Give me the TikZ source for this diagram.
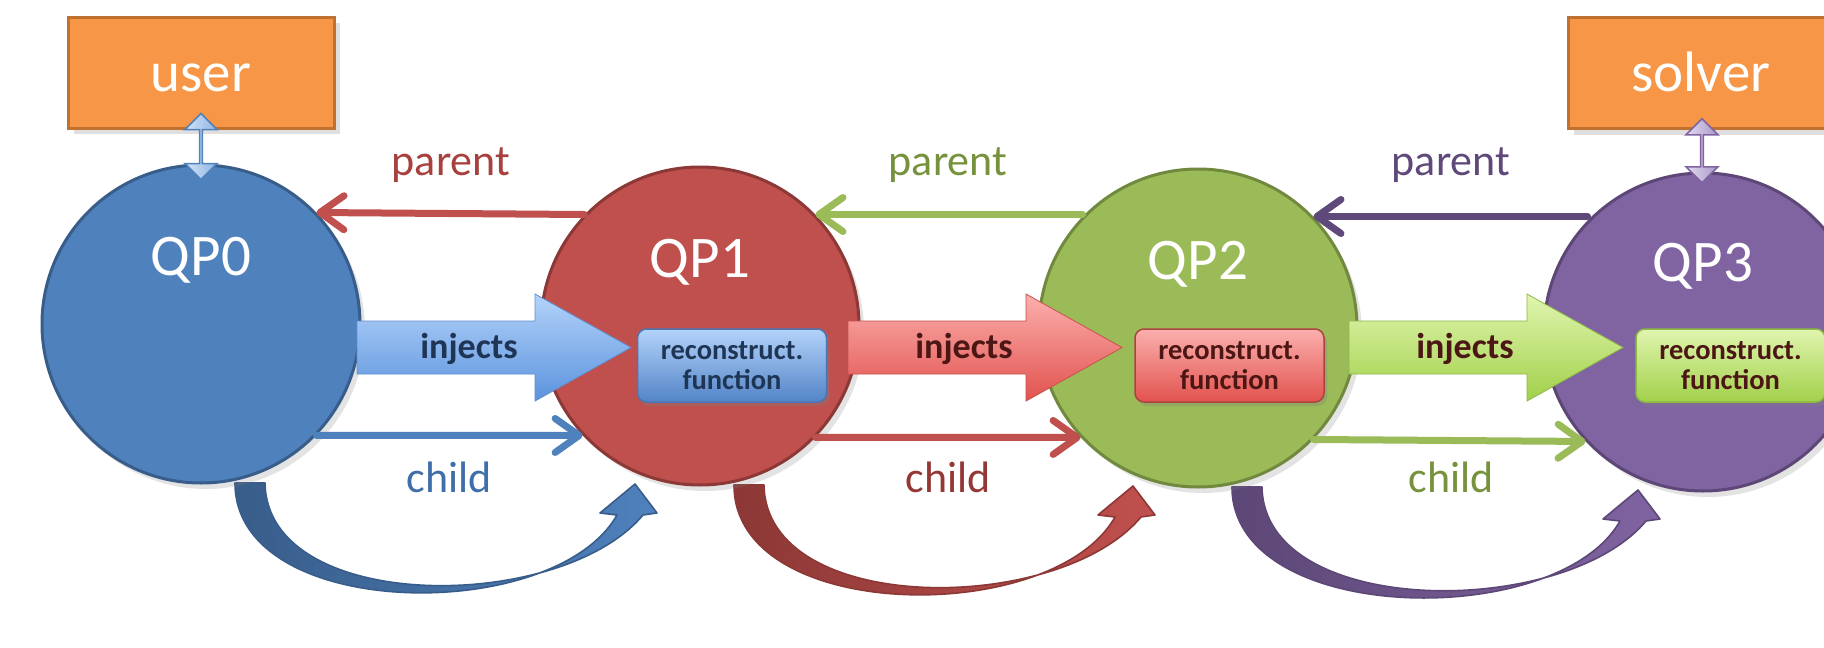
\documentclass[tikz,border=0pt]{standalone}
\usepackage{fontspec}
\setmainfont{Carlito}
\usetikzlibrary{arrows.meta,shapes.arrows,shadows,calc,backgrounds}
\definecolor{qblue}{HTML}{4F81BD}\definecolor{qblueD}{HTML}{385D8A}
\definecolor{qred}{HTML}{C0504D}\definecolor{qredD}{HTML}{8C3836}
\definecolor{qgreen}{HTML}{9BBB59}\definecolor{qgreenD}{HTML}{71893F}
\definecolor{qpurple}{HTML}{8064A2}\definecolor{qpurpleD}{HTML}{5C4776}
\definecolor{qorange}{HTML}{F79646}\definecolor{qorangeD}{HTML}{C0712F}
\definecolor{lblred}{HTML}{A8403D}\definecolor{lblblue}{HTML}{3F6FAA}
\definecolor{lblgreen}{HTML}{76923C}\definecolor{lblpurple}{HTML}{5F497A}
\definecolor{lbldred}{HTML}{953735}
\definecolor{navy}{HTML}{1F3556}\definecolor{maroon}{HTML}{4B1614}
\definecolor{bT}{HTML}{B3D3FA}\definecolor{bB}{HTML}{5C93DD}\definecolor{bE}{HTML}{5F8FD0}
\definecolor{rT}{HTML}{FBB0AE}\definecolor{rB}{HTML}{E2524E}\definecolor{rE}{HTML}{C9504C}
\definecolor{gT}{HTML}{E0F5B0}\definecolor{gB}{HTML}{A2D04A}\definecolor{gE}{HTML}{8DB843}
\definecolor{uaL}{HTML}{D2E3F7}\definecolor{uaR}{HTML}{8FB4E3}
\definecolor{saL}{HTML}{E3DAF0}\definecolor{saR}{HTML}{A897C8}
\tikzset{
 qp/.style={circle, minimum size=318pt, inner sep=0pt, line width=3pt,
   drop shadow={shadow xshift=5pt, shadow yshift=-6pt, opacity=0.22}},
 qptitle/.style={text=white, font=\fontsize{59}{70}\selectfont, inner sep=0pt},
 extbox/.style={rectangle, minimum width=266pt, minimum height=111pt, fill=qorange,
   draw=qorangeD, line width=3pt, text=white, font=\fontsize{57}{68}\selectfont,
   text height=37pt, text depth=0pt,
   drop shadow={shadow xshift=6pt, shadow yshift=-6pt, opacity=0.25}},
 link/.style={line width=7pt, line cap=round, -{Straight Barb[length=24pt,width=34pt,round]}},
 lbl/.style={font=\fontsize{44}{52}\selectfont, inner sep=0pt},
 recon/.style={rectangle, rounded corners=9pt, minimum width=189pt, minimum height=73pt,
   line width=1.5pt, font=\bfseries\fontsize{28.5}{30}\selectfont, align=center, inner sep=0pt,
   drop shadow={shadow xshift=3pt, shadow yshift=-4pt, opacity=0.3}},
 injlbl/.style={font=\bfseries\fontsize{36}{42}\selectfont, inner sep=0pt},
 dbl/.style={double arrow, rotate=90, minimum height=66pt, minimum width=32pt,
   double arrow head extend=8pt, inner sep=0pt, line width=1.5pt},
 injshape/.style={line width=0.8pt},
 bendarc/.style={line width=1.6pt, line join=round}
}
\newcommand\injarrow[4]{%
 \shade[injshape, top color=#2, bottom color=#3, draw=#4]
  ($(#1)+(0,-26.5)$) -- ++(178,0) -- ++(0,-27) -- ++(96,53.5) -- ++(-96,53.5)
  -- ++(0,-27) -- ++(-178,0) -- cycle;}
\newcommand\bendarrow[4]{%
 \shade[bendarc, left color=#4, right color=#3, draw=#4]
  ($(#1)+(34,159)$) -- ($(#1)+(64,159)$)
  .. controls ($(#1)+(66,290)$) and ($(#2)+(-140,288)$) .. ($(#2)+(-57,189)$)
  -- ($(#2)+(-43,187)$) -- ($(#2)+(-65,158)$) -- ($(#2)+(-100,187)$) -- ($(#2)+(-83,189)$)
  .. controls ($(#2)+(-145,299)$) and ($(#1)+(34,298)$) .. ($(#1)+(34,159)$) -- cycle;}
\begin{document}
\begin{tikzpicture}[x=1pt,y=-1pt]
\useasboundingbox (0,0) rectangle (1824,648);
% circles
\node[qp, fill=qblue, draw=qblueD] (QP0) at (201,324) {};
\node[qp, fill=qred, draw=qredD] (QP1) at (700,326) {};
\node[qp, fill=qgreen, draw=qgreenD] (QP2) at (1198,328) {};
\node[qp, fill=qpurple, draw=qpurpleD] (QP3) at (1703,332) {};
\begin{scope}[on background layer]
 \fill[white] (0,0) rectangle (1824,648);
 \bendarrow{QP0}{QP1}{qblue}{qblueD}
 \bendarrow{QP1}{QP2}{qred}{qredD}
 \bendarrow{QP2}{QP3}{qpurple}{qpurpleD}
\end{scope}
\node[qptitle] (T0) at ($(QP0)+(0,-64)$) {QP0};
\node[qptitle] (T1) at ($(QP1)+(0,-64)$) {QP1};
\node[qptitle] (T2) at ($(QP2)+(0,-64)$) {QP2};
\node[qptitle] (T3) at ($(QP3)+(0,-66)$) {QP3};
% parent / child links
\draw[link, qred] (QP1.136) -- (QP0.44);
\draw[link, qgreen] (QP2.136 |- QP1.44) -- (QP1.44);
\draw[link, lblpurple] (QP3.136 |- QP2.44) -- (QP2.44);
\draw[link, qblue] (QP0.-44) -- (QP1.-137);
\draw[link, qred] (QP1.-44) -- (QP2.-137);
\draw[link, qgreen] (QP2.-44) -- (QP3.-137);
\node[lbl, text=lblred] (p0) at (451,165) {parent};
\node[lbl, text=lblgreen] (p1) at (948,165) {parent};
\node[lbl, text=lblpurple] (p2) at (1451,165) {parent};
\node[lbl, text=lblblue] (c0) at (449,477) {child};
\node[lbl, text=lbldred] (c1) at (948,477) {child};
\node[lbl, text=lblgreen] (c2) at (1451,477) {child};
% injects arrows
\coordinate (i0) at (357,347.5);
\coordinate (i1) at (848,347.5);
\coordinate (i2) at (1349,347.5);
\injarrow{i0}{bT}{bB}{bE}
\injarrow{i1}{rT}{rB}{rE}
\injarrow{i2}{gT}{gB}{gE}
\node[injlbl, text=navy] (j0) at (469,349) {injects};
\node[injlbl, text=maroon] (j1) at (964,349) {injects};
\node[injlbl, text=maroon] (j2) at (1465,349) {injects};
% reconstruct boxes
\node[recon, top color=bT, bottom color=bB!90!black, draw=bB!80!black, text=navy] (R1) at (732,365.5) {reconstruct.\\function};
\node[recon, top color=rT, bottom color=rB, draw=rE!85!black, text=maroon] (R2) at (1229.5,365.5) {reconstruct.\\function};
\node[recon, top color=gT, bottom color=gB, draw=gE, text=maroon] (R3) at (1730.5,365.5) {reconstruct.\\function};
% external boxes
\node[extbox] (user) at (201,72.5) {user};
\node[extbox] (solver) at (1701,73) {solver};
\node[dbl, left color=uaL, right color=uaR, draw=qblue] (ua) at ($(user.south)!0.5!(QP0.north)$) {};
\node[dbl, minimum height=64pt, left color=saL, right color=saR, draw=qpurple] (sa) at ($(solver.south)!0.5!(QP3.north)$) {};
\end{tikzpicture}
\end{document}
